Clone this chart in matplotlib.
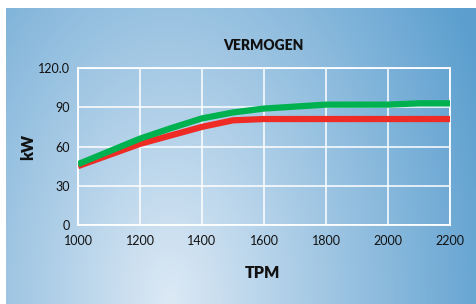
import numpy as np
import matplotlib
matplotlib.use("Agg")
import matplotlib.pyplot as plt
from matplotlib.colors import to_rgb

rpm = [1000, 1200, 1300, 1400, 1500, 1600, 1800, 2000, 2100, 2200]
green_kw = [46.5, 66, 74, 81.5, 86, 89, 92, 92, 93, 93]
red_kw = [45, 62, 68.5, 75, 80, 81, 81, 81, 81, 81]
xticks = [1000, 1200, 1400, 1600, 1800, 2000, 2200]
yticks = [0, 30, 60, 90, 120]
ytick_labels = ["0", "30", "60", "90", "120.0"]

plt.rcParams['font.family'] = ['Lato', 'DejaVu Sans']

W, H = 477, 304
fig = plt.figure(figsize=(W / 100, H / 100), dpi=100, facecolor='white')

# background gradient panel
bg = fig.add_axes([6 / W, 0, 1 - 6 / W, 1 - 8 / H])
bg.set_axis_off()
nx, ny = 480, 300
xs = np.linspace(6, 477, nx)
ys = np.linspace(8, 304, ny)
X, Y = np.meshgrid(xs, ys)
cx, cy = 170, 300
t = np.sqrt(((X - cx) / 340) ** 2 + ((Y - cy) / 560) ** 2)
t = np.clip(t, 0, 1)
c0 = np.array(to_rgb('#dce9f5'))
c1 = np.array(to_rgb('#5c9fcf'))
img = c0[None, None, :] * (1 - t[..., None]) + c1[None, None, :] * t[..., None]
bg.imshow(img, aspect='auto', extent=[0, 1, 0, 1], origin='upper')

ax = fig.add_axes([78 / W, 1 - 225 / H, (450 - 78) / W, (225 - 68) / H])
ax.patch.set_alpha(0)
ax.set_xlim(1000, 2200)
ax.set_ylim(0, 120)
ax.set_xticks(xticks)
ax.set_yticks(yticks)
ax.set_yticklabels(ytick_labels)
ax.grid(True, color='white', lw=1.3, alpha=0.85)
ax.set_axisbelow(True)
for s in ax.spines.values():
    s.set_color('white')
    s.set_linewidth(1.3)
ax.tick_params(length=0, labelsize=9, colors='#111111', pad=6)
ax.tick_params(axis='x', pad=7)

ax.plot(rpm, red_kw, color='#ee2b25', lw=4.5, solid_capstyle='butt', zorder=3)
ax.plot(rpm, green_kw, color='#00b14f', lw=4.5, solid_capstyle='butt', zorder=4)

fig.text(263 / W, 1 - 46 / H, "VERMOGEN", ha='center', va='center',
         fontsize=10, fontweight='heavy', color='#111111')
fig.text(262 / W, 1 - 273 / H, "TPM", ha='center', va='center',
         fontsize=11.5, fontweight='heavy', color='#111111')
fig.text(28 / W, 1 - 147 / H, "kW", ha='center', va='center', rotation=90,
         fontsize=11.5, fontweight='heavy', color='#111111')

fig.savefig('out.png', dpi=100, facecolor='white')
